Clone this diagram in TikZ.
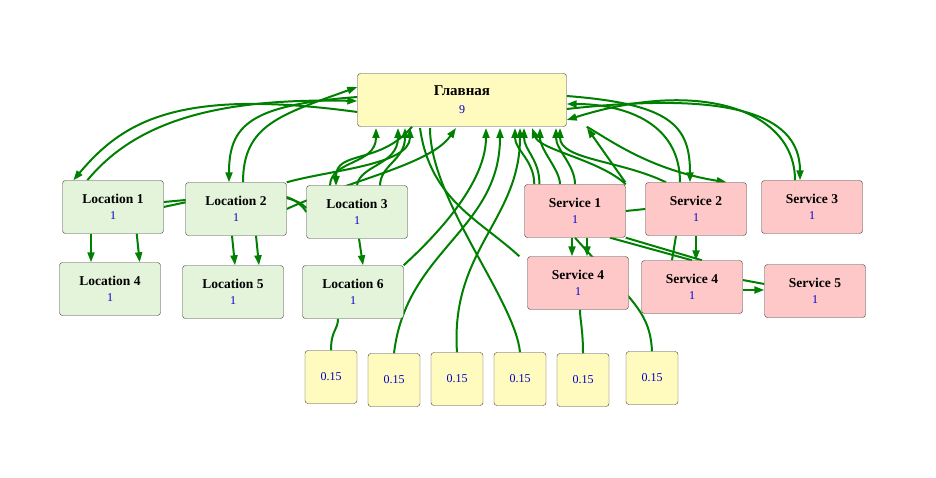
\documentclass[tikz,border=0pt]{standalone}
\usepackage{fontspec}
\setmainfont{Liberation Serif}
\usetikzlibrary{arrows.meta,backgrounds}
\definecolor{edgegreen}{RGB}{0,128,0}
\definecolor{mainfill}{RGB}{255,250,190}
\definecolor{locfill}{RGB}{228,244,218}
\definecolor{srvfill}{RGB}{255,200,200}
\tikzset{
  box/.style={draw=black!75, rounded corners=3pt, minimum width=101pt, minimum height=53pt, align=center, font=\fontsize{13.5}{17}\selectfont\bfseries},
  small/.style={draw=black!75, fill=mainfill, rounded corners=3pt, minimum width=52pt, minimum height=53pt, font=\fontsize{12}{14}\selectfont, text=blue!80!black},
  link/.style={draw=edgegreen, line width=2pt, -{Triangle[length=10pt,width=7pt]}},
  plain/.style={draw=edgegreen, line width=2pt},
}
\newcommand{\val}[1]{\\[-1pt]{\fontsize{12}{14}\selectfont\mdseries\color{blue!80!black}#1}}
\begin{document}
\begin{tikzpicture}[x=1pt,y=-1pt]
  \useasboundingbox (0,0) rectangle (936,478);

  % Nodes
  \node[box, fill=mainfill, minimum width=209pt, font=\fontsize{15}{19}\selectfont\bfseries] (main) at (462,100) {Главная\val{9}};
  \node[box, fill=locfill] (loc1) at (113,207) {Location 1\val{1}};
  \node[box, fill=locfill] (loc2) at (236,209) {Location 2\val{1}};
  \node[box, fill=locfill] (loc3) at (357,212) {Location 3\val{1}};
  \node[box, fill=locfill] (loc4) at (110,289) {Location 4\val{1}};
  \node[box, fill=locfill] (loc5) at (233,292) {Location 5\val{1}};
  \node[box, fill=locfill] (loc6) at (353,292) {Location 6\val{1}};
  \node[box, fill=srvfill] (srv1) at (575,211) {Service 1\val{1}};
  \node[box, fill=srvfill] (srv2) at (696,209) {Service 2\val{1}};
  \node[box, fill=srvfill] (srv3) at (812,207) {Service 3\val{1}};
  \node[box, fill=srvfill] (srv4a) at (578,283) {Service 4\val{1}};
  \node[box, fill=srvfill] (srv4b) at (692,287) {Service 4\val{1}};
  \node[box, fill=srvfill] (srv5) at (815,291) {Service 5\val{1}};
  \foreach \x/\y [count=\i] in {331/377, 394/380, 457/379, 520/379, 583/380, 652/378} {
    \node[small] (w\i) at (\x,\y) {0.15};
  }

  \begin{scope}[on background layer]
  % Main <-> left side
  \draw[link] ([yshift=-12pt]main.west) .. controls (180,88) and (124,120) .. ([xshift=11pt]loc1.north west);
  \draw[link] ([xshift=25pt]loc1.north west) .. controls (137,120) and (220,98) .. ([yshift=-1pt]main.west);
  \draw[link] ([yshift=3pt]main.west) .. controls (250,105) and (229,125) .. ([xshift=-7pt]loc2.north);
  \draw[link] ([xshift=7pt]loc2.north) .. controls (243,125) and (280,115) .. ([yshift=13pt]main.west);

  % Main <-> right side
  \draw[link] ([xshift=-17pt]srv3.north) .. controls (795,110) and (700,78) .. ([yshift=-20pt]main.east);
  \draw[link] ([yshift=-9pt]main.east) .. controls (720,92) and (800,110) .. ([xshift=-12pt]srv3.north);
  \draw[link] ([yshift=4pt]main.east) .. controls (670,104) and (690,125) .. ([xshift=-6pt]srv2.north);
  \draw[link] ([xshift=-16pt]srv2.north) .. controls (680,120) and (620,104) .. ([yshift=-4pt]main.east);
  \draw[link] ([xshift=-20pt]srv2.north west) -- (587,128);

  % Left group -> main bottom
  \draw[link] (330,186) .. controls (330,160) and (376,165) .. (376,128);
  \draw[link] ([xshift=-50pt]main.south) .. controls (380,165) and (336,150) .. (336,186);
  \draw[link] (loc3.north) .. controls (360,165) and (398,165) .. (398,128);
  \draw[link] (380,186) .. controls (380,165) and (405,160) .. (405,128);
  \draw[link] (loc2.north east) .. controls (330,170) and (410,165) .. (410,128);
  \draw[link] (loc2.east) .. controls (350,180) and (430,165) .. (456,128);
  \draw[plain] (loc1.east) .. controls (240,190) and (290,185) .. (loc3.west);
  \draw[plain] ([yshift=5pt]loc1.east) .. controls (240,195) and (290,190) .. ([yshift=4pt]loc3.west);
  \draw[link] ([xshift=-22pt]loc1.south) -- ([xshift=-22pt]loc1.south |- loc4.north);
  \draw[link] ([xshift=-27pt]loc1.south east) -- ([xshift=-24pt]loc1.south east |- loc4.north);
  \draw[link] ([xshift=-4pt]loc2.south) -- ([xshift=-1pt]loc2.south |- loc5.north);
  \draw[link] ([xshift=20pt]loc2.south) -- ([xshift=23pt]loc2.south |- loc5.north);
  \draw[link] ([xshift=2pt]loc3.south) -- ([xshift=6pt]loc3.south |- loc6.north);
  \draw[link] (loc6.north east) .. controls (420,250) and (486,190) .. (486,128);

  % Small boxes <-> main
  \draw[plain] ([xshift=-15pt]loc6.south) .. controls (338,330) and (331,330) .. (w1.north);
  \draw[link] (w2.north) .. controls (406,250) and (500,230) .. (500,128);
  \draw[link] (w3.north) .. controls (450,250) and (520,220) .. (520,128);
  \draw[plain] (w4.north) .. controls (515,300) and (430,200) .. (430,128);
  \draw[plain] ([xshift=-8pt]srv4a.north west) .. controls (480,220) and (430,200) .. (420,128);
  \draw[plain] ([xshift=2pt]srv4a.south) .. controls (580,320) and (583,330) .. (w5.north);
  \draw[plain] (w6.north) .. controls (650,310) and (630,300) .. (srv1.south);

  % Right group -> main bottom
  \draw[link] ([xshift=10pt]srv1.north west) .. controls (534,160) and (515,150) .. (515,128);
  \draw[link] ([xshift=15pt]srv1.north west) .. controls (540,160) and (524,150) .. (524,128);
  \draw[link] ([xshift=-15pt]srv1.north) .. controls (560,170) and (540,150) .. (540,128);
  \draw[link] (srv1.north) .. controls (575,165) and (556,150) .. (556,128);
  \draw[link] (srv1.north east) .. controls (600,160) and (540,150) .. (532,128);
  \draw[link] ([xshift=-30pt]srv2.north) .. controls (620,160) and (560,160) .. (560,128);
  \draw[link] ([xshift=20pt]main.south east) .. controls (610,140) and (650,170) .. ([xshift=-20pt]srv2.north east);

  % Right group links
  \draw[plain] (srv1.east) -- (srv2.west);
  \draw[link] ([xshift=-3pt]srv1.south) -- ([xshift=-3pt]srv1.south |- srv4a.north);
  \draw[link] ([xshift=12pt]srv1.south) -- ([xshift=12pt]srv1.south |- srv4a.north);
  \draw[plain] ([xshift=35pt]srv1.south) -- (srv4b.north);
  \draw[plain] (srv1.south east) -- ([xshift=10pt]srv4b.north);
  \draw[link] (srv2.south) -- (srv2.south |- srv4b.north);
  \draw[plain] ([xshift=-20pt]srv2.south) -- ([xshift=-24pt]srv2.south |- srv4b.north);
  \draw[link] ([yshift=-3pt]srv4b.east) -- ([yshift=1pt]srv5.west);
  \draw[plain] ([yshift=7pt]srv4b.east) -- ([yshift=7pt]srv5.west);
  \end{scope}
\end{tikzpicture}
\end{document}
